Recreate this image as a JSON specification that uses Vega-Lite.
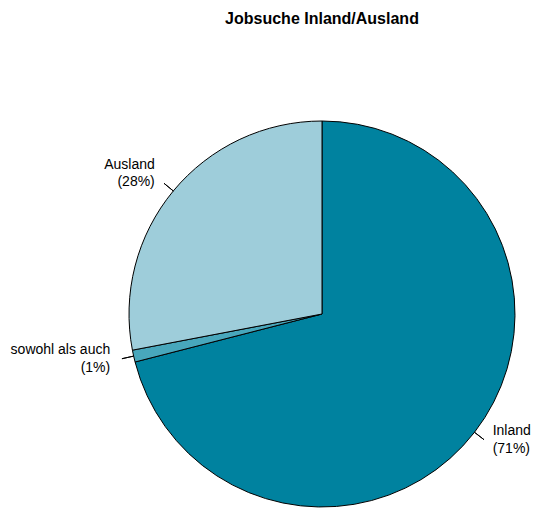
{
  "$schema": "https://vega.github.io/schema/vega-lite/v6.json",
  "width": 386,
  "height": 386,
  "autosize": {"type": "none"},
  "padding": {"left": 129, "top": 121, "right": 18, "bottom": 2},
  "background": "white",
  "title": {"text": "Jobsuche Inland/Ausland", "font": "Liberation Sans", "fontSize": 16, "fontWeight": "bold", "color": "black", "anchor": "middle", "offset": 92},
  "config": {"view": {"stroke": null}},
  "data": {"values": [
    {"label": "Inland", "pct": 71, "order": 1, "text": "Inland\n(71%)", "side": "right"},
    {"label": "sowohl als auch", "pct": 1, "order": 2, "text": "sowohl als auch\n(1%)", "side": "left"},
    {"label": "Ausland", "pct": 28, "order": 3, "text": "Ausland\n(28%)", "side": "left"}
  ]},
  "transform": [
    {"window": [{"op": "sum", "field": "pct", "as": "cum"}], "sort": [{"field": "order"}], "frame": [null, 0]},
    {"calculate": "datum.cum - datum.pct / 2", "as": "mid"}
  ],
  "layer": [
    {
      "mark": {"type": "arc", "stroke": "black", "strokeWidth": 1, "radius": 193},
      "encoding": {
        "theta": {"field": "pct", "type": "quantitative", "stack": true, "scale": {"domain": [0, 100]}},
        "order": {"field": "order", "type": "quantitative"},
        "color": {"field": "label", "type": "nominal", "legend": null,
          "scale": {"domain": ["Inland", "sowohl als auch", "Ausland"], "range": ["#00829F", "#48A7BC", "#9ECDDA"]}}
      }
    },
    {
      "mark": {"type": "arc", "stroke": "black", "strokeWidth": 1, "fill": null, "radius": 193, "radius2": 205},
      "encoding": {
        "theta": {"field": "mid", "type": "quantitative", "stack": null},
        "theta2": {"field": "mid"}
      }
    },
    {
      "transform": [{"filter": "datum.side == 'left'"}],
      "mark": {"type": "text", "radius": 217, "align": "right", "baseline": "middle", "lineBreak": "\n", "font": "Liberation Sans", "fontSize": 14, "lineHeight": 17.5, "dy": -11, "color": "black"},
      "encoding": {
        "theta": {"field": "mid", "type": "quantitative", "stack": null},
        "text": {"field": "text"}
      }
    },
    {
      "transform": [{"filter": "datum.side == 'right'"}],
      "mark": {"type": "text", "radius": 216, "align": "left", "baseline": "middle", "lineBreak": "\n", "font": "Liberation Sans", "fontSize": 14, "lineHeight": 17.5, "dy": -15, "color": "black"},
      "encoding": {
        "theta": {"field": "mid", "type": "quantitative", "stack": null},
        "text": {"field": "text"}
      }
    }
  ]
}
